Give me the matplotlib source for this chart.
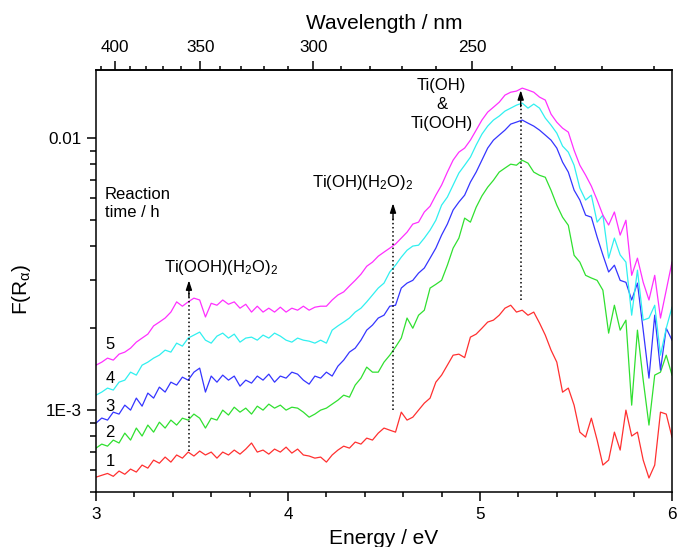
import numpy as np
import matplotlib
matplotlib.use("Agg")
import matplotlib.pyplot as plt
from matplotlib.ticker import (FixedLocator, FixedFormatter, MultipleLocator,
                               LogLocator, NullFormatter)

plt.rcParams['font.family'] = ['Liberation Sans', 'DejaVu Sans']
plt.rcParams['mathtext.default'] = 'regular'

# ---------------- data (F(R) in units of 1e-3) ----------------
energy = [3.00, 3.03, 3.06, 3.09, 3.12, 3.15, 3.18, 3.21, 3.24, 3.27,
          3.30, 3.33, 3.36, 3.39, 3.42, 3.45, 3.48, 3.51, 3.54, 3.57,
          3.60, 3.63, 3.66, 3.69, 3.72, 3.75, 3.78, 3.81, 3.84, 3.87,
          3.90, 3.93, 3.96, 3.99, 4.02, 4.05, 4.08, 4.11, 4.14, 4.17,
          4.20, 4.23, 4.26, 4.29, 4.32, 4.35, 4.38, 4.41, 4.44, 4.47,
          4.50, 4.53, 4.56, 4.59, 4.62, 4.65, 4.68, 4.71, 4.74, 4.77,
          4.80, 4.83, 4.86, 4.89, 4.92, 4.95, 4.98, 5.01, 5.04, 5.07,
          5.10, 5.13, 5.16, 5.19, 5.22, 5.25, 5.28, 5.31, 5.34, 5.37,
          5.40, 5.43, 5.46, 5.49, 5.52, 5.55, 5.58, 5.61, 5.64, 5.67,
          5.70, 5.73, 5.76, 5.79, 5.82, 5.85, 5.88, 5.91, 5.94, 5.97,
          6.00]

curve_1 = [0.567, 0.576, 0.585, 0.571, 0.597, 0.581, 0.607, 0.592, 0.628, 0.612,
           0.655, 0.638, 0.672, 0.644, 0.684, 0.666, 0.701, 0.678, 0.707, 0.684,
           0.701, 0.666, 0.701, 0.684, 0.713, 0.689, 0.719, 0.757, 0.701, 0.713,
           0.689, 0.719, 0.701, 0.731, 0.695, 0.719, 0.684, 0.678, 0.666, 0.672,
           0.644, 0.684, 0.713, 0.737, 0.725, 0.763, 0.750, 0.789, 0.776, 0.823,
           0.859, 0.844, 0.830, 0.983, 0.919, 0.942, 1.000, 1.061, 1.107, 1.267,
           1.345, 1.463, 1.592, 1.606, 1.560, 1.855, 1.903, 2.000, 2.107, 2.142,
           2.233, 2.370, 2.430, 2.293, 2.330, 2.233, 2.293, 2.090, 1.887, 1.662,
           1.501, 1.164, 1.205, 1.043, 0.830, 0.796, 0.934, 0.776, 0.628, 0.655,
           0.830, 0.713, 1.000, 0.803, 0.830, 0.655, 0.563, 0.628, 0.983, 0.967,
           0.796]

curve_2 = [0.725, 0.750, 0.737, 0.776, 0.757, 0.823, 0.776, 0.859, 0.803, 0.881,
           0.830, 0.903, 0.859, 0.919, 0.881, 0.934, 0.919, 0.967, 0.934, 0.859,
           0.934, 0.919, 1.000, 0.959, 1.025, 0.983, 1.017, 0.967, 1.034, 1.000,
           1.052, 1.017, 1.043, 1.000, 1.025, 1.017, 0.983, 0.942, 0.967, 1.000,
           1.017, 1.052, 1.088, 1.135, 1.116, 1.236, 1.311, 1.439, 1.379, 1.379,
           1.501, 1.592, 1.705, 1.840, 2.180, 2.000, 2.233, 2.330, 2.810, 2.900,
           3.000, 3.410, 3.940, 4.290, 5.080, 4.910, 5.570, 6.130, 6.600, 7.000,
           7.500, 7.760, 8.020, 7.950, 8.290, 8.090, 7.500, 7.300, 7.180, 6.430,
           5.670, 5.120, 4.780, 3.710, 3.500, 3.130, 3.060, 3.000, 2.760, 1.919,
           2.430, 1.968, 2.142, 1.043, 1.968, 1.289, 0.881, 1.345, 1.379, 1.592,
           1.345]

curve_3 = [0.896, 0.935, 0.919, 0.983, 0.967, 1.043, 1.000, 1.107, 1.034, 1.155,
           1.107, 1.215, 1.165, 1.267, 1.236, 1.322, 1.289, 1.379, 1.427, 1.165,
           1.334, 1.267, 1.345, 1.289, 1.334, 1.225, 1.289, 1.257, 1.334, 1.289,
           1.356, 1.267, 1.334, 1.311, 1.379, 1.356, 1.289, 1.246, 1.334, 1.311,
           1.379, 1.334, 1.451, 1.527, 1.634, 1.690, 1.808, 1.968, 2.054, 2.180,
           2.234, 2.410, 2.430, 2.810, 2.930, 3.000, 3.190, 3.330, 3.620, 3.940,
           4.400, 4.830, 5.440, 5.820, 6.170, 6.890, 7.500, 8.300, 9.190, 9.830,
           10.26, 10.70, 11.26, 11.45, 11.65, 11.35, 11.07, 10.70, 10.26, 9.830,
           9.190, 8.160, 7.500, 6.440, 5.920, 5.210, 5.120, 4.330, 3.720, 3.220,
           3.410, 3.000, 2.950, 2.540, 2.930, 1.968, 1.311, 2.234, 1.403, 2.000,
           1.808]

curve_4 = [1.135, 1.165, 1.205, 1.185, 1.267, 1.289, 1.379, 1.345, 1.463, 1.501,
           1.553, 1.593, 1.662, 1.634, 1.763, 1.719, 1.840, 1.887, 1.936, 1.808,
           1.763, 1.871, 1.919, 1.840, 1.903, 1.778, 1.840, 1.855, 1.808, 1.887,
           1.840, 1.919, 1.871, 1.808, 1.778, 1.840, 1.808, 1.793, 1.763, 1.808,
           1.763, 1.968, 2.040, 2.107, 2.180, 2.293, 2.370, 2.500, 2.650, 2.810,
           2.930, 3.220, 3.410, 3.650, 3.870, 4.010, 4.040, 4.290, 4.590, 4.990,
           5.670, 6.070, 6.720, 7.440, 7.950, 8.510, 9.430, 10.34, 11.07, 11.65,
           12.05, 12.57, 12.89, 13.22, 13.45, 12.89, 13.34, 12.89, 11.85, 11.16,
           10.43, 9.350, 8.880, 7.950, 6.550, 5.920, 6.170, 4.910, 5.210, 3.620,
           4.290, 3.720, 3.500, 2.234, 3.270, 2.142, 2.180, 2.430, 1.593, 2.000,
           2.390]

curve_5 = [1.463, 1.501, 1.553, 1.527, 1.606, 1.634, 1.690, 1.778, 1.840, 1.903,
           2.040, 2.107, 2.180, 2.293, 2.500, 2.410, 2.500, 2.580, 2.540, 2.200,
           2.470, 2.430, 2.540, 2.450, 2.500, 2.370, 2.450, 2.293, 2.410, 2.293,
           2.370, 2.293, 2.390, 2.293, 2.370, 2.330, 2.410, 2.330, 2.390, 2.410,
           2.410, 2.540, 2.650, 2.720, 2.860, 3.000, 3.160, 3.380, 3.500, 3.680,
           3.810, 3.940, 4.080, 4.290, 4.510, 4.830, 4.910, 5.350, 5.620, 6.170,
           6.720, 7.500, 8.300, 8.880, 9.190, 9.830, 10.70, 11.65, 12.46, 12.99,
           13.55, 14.39, 14.75, 14.89, 15.27, 15.02, 14.75, 14.15, 13.80, 12.25,
           11.44, 10.88, 10.52, 9.030, 7.950, 7.310, 6.660, 5.920, 5.210, 4.790,
           5.350, 4.400, 4.990, 3.130, 3.620, 2.950, 2.540, 3.130, 2.180, 2.760,
           3.500]

curves = [curve_1, curve_2, curve_3, curve_4, curve_5]
curve_labels = ['1', '2', '3', '4', '5']
curve_colors = ['#ff3030', '#30e030', '#3535ff', '#30f0f0', '#ff30ff']
label_pos_f = [0.649e-3, 0.830e-3, 1.034e-3, 1.311e-3, 1.749e-3]

y_ticks = [1e-3, 1e-2]
y_ticklabels = ['1E-3', '0.01']
x_ticks = [3, 4, 5, 6]
wl_major = [250, 300, 350, 400]
wl_minor = [210, 220, 230, 240, 260, 270, 280, 290, 310, 320, 330, 340,
            360, 370, 380, 390, 410]

# annotations: (energy, bottom F, tip F)
arrows = [(3.484, 0.707e-3, 3.0e-3),
          (4.547, 1.0e-3, 5.76e-3),
          (5.212, 2.54e-3, 15.0e-3)]

HC = 1239.84  # eV nm

# ---------------- figure ----------------
fig = plt.figure(figsize=(6.77, 5.47), dpi=100)
ax = fig.add_axes([96 / 677, 1 - 492 / 547, 576 / 677, 422 / 547])

E = np.array(energy)
for c, col in zip(curves, curve_colors):
    ax.plot(E, np.array(c) * 1e-3, color=col, lw=0.9)

ax.set_yscale('log')
ax.set_xlim(3, 6)
ax.set_ylim(5e-4, 1.78e-2)

ax.xaxis.set_major_locator(FixedLocator(x_ticks))
ax.xaxis.set_minor_locator(MultipleLocator(0.2))
ax.yaxis.set_major_locator(FixedLocator(y_ticks))
ax.yaxis.set_major_formatter(FixedFormatter(y_ticklabels))
ax.yaxis.set_minor_locator(LogLocator(base=10, subs=np.arange(2, 10), numticks=20))
ax.yaxis.set_minor_formatter(NullFormatter())

for s in ax.spines.values():
    s.set_linewidth(1.1)

ax.tick_params(which='both', direction='out', top=False, right=False, width=1.1)
ax.tick_params(axis='x', which='major', length=6.5, labelsize=12.3, pad=4)
ax.tick_params(axis='x', which='minor', length=3.5)
ax.tick_params(axis='y', which='major', length=6.5, labelsize=12.3, pad=4)
ax.tick_params(axis='y', which='minor', length=4.3)


def e2w(e):
    e = np.asarray(e, dtype=float)
    with np.errstate(divide='ignore', invalid='ignore'):
        return HC / e


sec = ax.secondary_xaxis('top', functions=(e2w, e2w))
sec.xaxis.set_major_locator(FixedLocator(wl_major))
sec.xaxis.set_minor_locator(FixedLocator(wl_minor))
sec.xaxis.set_minor_formatter(NullFormatter())
sec.tick_params(which='both', direction='out', width=1.1)
sec.tick_params(which='major', length=6.5, labelsize=12.3, pad=4)
sec.tick_params(which='minor', length=3)
sec.spines['top'].set_linewidth(1.1)
sec.set_xlabel('Wavelength / nm', fontsize=15, labelpad=8)

ax.set_xlabel('Energy / eV', fontsize=15)
ax.xaxis.set_label_coords(0.5, -0.088)
ax.set_ylabel('F(R$_α$)', fontsize=15)
ax.yaxis.set_label_coords(-0.11, 0.48)

# curve numbers
for lab, fpos in zip(curve_labels, label_pos_f):
    ax.text(3.073, fpos, lab, fontsize=12, ha='center', va='center')

ax.text(3.047, 5.74e-3, 'Reaction\ntime / h', fontsize=12, ha='left',
        va='center', linespacing=1.3)

# arrows
for xe, fb, ft in arrows:
    fh = ft / 1.115
    ax.plot([xe, xe], [fb, fh], color='black', lw=1.1, ls=(0, (1.0, 1.7)))
    ax.annotate('', xy=(xe, ft), xytext=(xe, fh * 0.97),
                arrowprops=dict(arrowstyle='-|>,head_length=0.55,head_width=0.18',
                                color='black', lw=1.0, shrinkA=0, shrinkB=0))

ax.text(3.354, 3.21e-3, 'Ti(OOH)(H$_2$O)$_2$', fontsize=12, ha='left',
        va='baseline')
ax.text(4.125, 6.6e-3, 'Ti(OH)(H$_2$O)$_2$', fontsize=12, ha='left',
        va='baseline')
ax.text(4.80, 13.3e-3, 'Ti(OH)\n&\nTi(OOH)', fontsize=12, ha='center',
        va='center', linespacing=1.3, multialignment='center')

fig.savefig('out.png', dpi=100)
